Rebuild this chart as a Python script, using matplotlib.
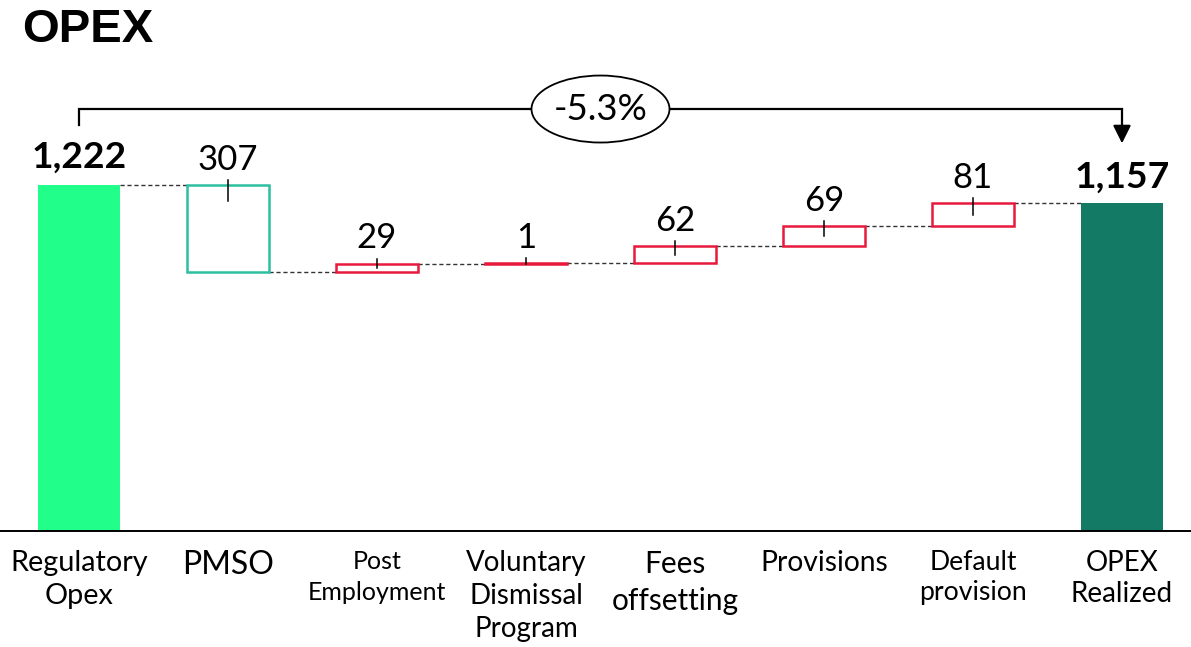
import matplotlib.pyplot as plt
from matplotlib.patches import Ellipse

plt.rcParams['font.family'] = ['Lato', 'DejaVu Sans']

# Waterfall data
categories = ["Regulatory\nOpex", "PMSO", "Post\nEmployment", "Voluntary\nDismissal\nProgram",
              "Fees\noffsetting", "Provisions", "Default\nprovision", "OPEX\nRealized"]
start_value = 1222
changes = [-307, 29, 1, 62, 69, 81]
end_value = 1157

# per-category label styling
label_sizes = [20.8, 23, 18, 20, 21.5, 20.3, 19.2, 20]
label_spacing = [1.31, 1.0, 1.42, 1.32, 1.37, 1.0, 1.25, 1.24]

start_color = "#21FF8A"
end_color = "#137A66"
down_color = "#2CBFA0"
up_color = "#E8193C"

fig = plt.figure(figsize=(11.91, 6.47), dpi=100)
ax = fig.add_axes([0, 116 / 647, 1, 531 / 647])
ax.set_xlim(-79 / 149, (1191 - 79) / 149)
ax.set_ylim(0, 1875)
px = 531 / 1875  # pixels per unit on the y axis

w = 0.557

# running levels of the waterfall
level = start_value
bottoms, heights, tops, after = [], [], [], [start_value]
for c in changes:
    bottoms.append(min(level, level + c))
    heights.append(abs(c))
    tops.append(max(level, level + c))
    level += c
    after.append(level)

x_changes = list(range(1, len(changes) + 1))
x_end = len(changes) + 1
edge_colors = [down_color if c < 0 else up_color for c in changes]

ax.bar(0, start_value, width=w, color=start_color, zorder=2)
ax.bar(x_changes, heights, bottom=bottoms, width=w, facecolor="white",
       edgecolor=edge_colors, linewidth=1.8, zorder=2)
ax.bar(x_end, end_value, width=w, color=end_color, zorder=2)

# dashed connectors between bars
for i, lv in enumerate(after):
    ax.plot([i + w / 2, i + 1 - w / 2], [lv, lv], color="#333333",
            linestyle=(0, (3, 2)), linewidth=1.0, zorder=1)

# small markers at the top of each change box
for xi, top, h in zip(x_changes, tops, heights):
    ax.plot([xi, xi], [top + 5 / px, top - min(16 / px, h / 2)],
            color="black", linewidth=1.1, zorder=3)

# value labels
ax.annotate(f"{start_value:,}", (0, start_value), xytext=(0, 12), textcoords="offset points",
            ha="center", va="baseline", fontsize=26.8, fontweight="bold")
for xi, top, c in zip(x_changes, tops, changes):
    ax.annotate(f"{abs(c):,}", (xi, top), xytext=(0, 11), textcoords="offset points",
                ha="center", va="baseline", fontsize=25)
ax.annotate(f"{end_value:,}", (x_end, end_value), xytext=(0, 11), textcoords="offset points",
            ha="center", va="baseline", fontsize=26.8, fontweight="bold")

# bracket with percentage change
gap = 212
bracket_y = max(start_value, end_value) + 268
ax.plot([0, 0, x_end, x_end], [start_value + gap, bracket_y, bracket_y, bracket_y - 1],
        color="black", linewidth=1.6, solid_joinstyle="miter", zorder=3)
ax.annotate("", xy=(x_end, end_value + gap), xytext=(x_end, bracket_y),
            arrowprops=dict(arrowstyle="-|>,head_length=0.6,head_width=0.3",
                            mutation_scale=18, color="black", lw=1.6,
                            shrinkA=0, shrinkB=0))
pct = (end_value - start_value) / start_value * 100
mid = x_end / 2
ax.add_patch(Ellipse((mid, bracket_y), width=138 / 149, height=67 / px,
                     facecolor="white", edgecolor="black", linewidth=1.3, zorder=4))
ax.text(mid, bracket_y, f"{pct:.1f}%", ha="center", va="center", fontsize=26.4, zorder=5)

# axes styling
for side in ["top", "left", "right"]:
    ax.spines[side].set_visible(False)
ax.spines["bottom"].set_linewidth(1.4)
ax.set_yticks([])
ax.set_xticks(range(len(categories)))
ax.set_xticklabels(categories)
ax.tick_params(axis="x", length=0, pad=14)
for lbl, size, ls in zip(ax.get_xticklabels(), label_sizes, label_spacing):
    lbl.set_fontsize(size)
    lbl.set_linespacing(ls)

fig.text(22 / 1191, 1 - 8 / 647, "OPEX", fontfamily="Liberation Sans", fontweight="bold",
         fontsize=34, va="top", ha="left")

fig.savefig("out.png", dpi=100)
